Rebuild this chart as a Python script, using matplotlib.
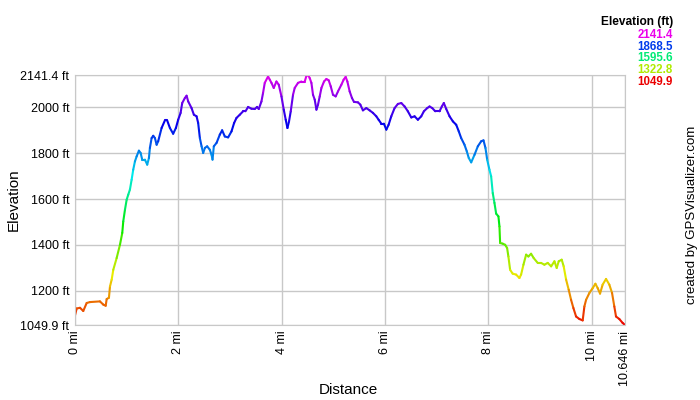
import numpy as np
import matplotlib
matplotlib.use("Agg")
import matplotlib.pyplot as plt
from matplotlib.collections import LineCollection
from matplotlib.colors import hsv_to_rgb

plt.rcParams['font.family'] = ['Liberation Sans', 'DejaVu Sans']

# track profile: distance (mi), elevation (ft)
dist_mi = [0.00, 0.033, 0.097, 0.160, 0.226, 0.290, 0.483, 0.547, 0.594, 0.613,
           0.657, 0.677, 0.710, 0.741, 0.806, 0.870, 0.915, 0.934, 0.967, 1.000,
           1.031, 1.063, 1.096, 1.127, 1.160, 1.193, 1.237, 1.270, 1.301, 1.353,
           1.398, 1.431, 1.450, 1.483, 1.514, 1.547, 1.580, 1.610, 1.676, 1.740,
           1.784, 1.837, 1.900, 1.953, 1.997, 2.044, 2.075, 2.127, 2.160, 2.191,
           2.256, 2.301, 2.353, 2.384, 2.417, 2.450, 2.481, 2.514, 2.558, 2.610,
           2.643, 2.662, 2.687, 2.740, 2.803, 2.848, 2.900, 2.964, 3.029, 3.080,
           3.126, 3.190, 3.254, 3.300, 3.351, 3.416, 3.480, 3.524, 3.557, 3.609,
           3.640, 3.673, 3.737, 3.770, 3.803, 3.847, 3.899, 3.944, 3.996, 4.041,
           4.079, 4.112, 4.143, 4.176, 4.220, 4.253, 4.317, 4.383, 4.447, 4.480,
           4.511, 4.543, 4.576, 4.607, 4.640, 4.673, 4.704, 4.737, 4.770, 4.820,
           4.866, 4.911, 4.950, 4.994, 5.046, 5.091, 5.156, 5.200, 5.239, 5.272,
           5.316, 5.361, 5.400, 5.477, 5.523, 5.573, 5.639, 5.703, 5.767, 5.832,
           5.877, 5.929, 5.979, 6.026, 6.070, 6.122, 6.186, 6.250, 6.316, 6.380,
           6.443, 6.509, 6.573, 6.637, 6.702, 6.753, 6.818, 6.863, 6.915, 6.973,
           7.056, 7.101, 7.139, 7.186, 7.250, 7.314, 7.379, 7.429, 7.475, 7.539,
           7.584, 7.622, 7.669, 7.733, 7.797, 7.862, 7.907, 7.945, 7.978, 8.022,
           8.055, 8.086, 8.119, 8.152, 8.196, 8.216, 8.229, 8.279, 8.326, 8.364,
           8.389, 8.422, 8.472, 8.538, 8.602, 8.635, 8.680, 8.732, 8.776, 8.828,
           8.879, 8.956, 9.022, 9.086, 9.150, 9.216, 9.280, 9.324, 9.363, 9.421,
           9.459, 9.506, 9.556, 9.602, 9.647, 9.699, 9.763, 9.827, 9.860, 9.893,
           9.957, 10.021, 10.073, 10.117, 10.163, 10.213, 10.279, 10.343, 10.395, 10.439,
           10.472, 10.536, 10.600, 10.646]
elev_ft = [1092, 1122, 1125, 1111, 1146, 1150, 1153, 1139, 1134, 1163,
           1169, 1218, 1248, 1291, 1342, 1400, 1452, 1502, 1553, 1597,
           1619, 1641, 1684, 1728, 1764, 1786, 1811, 1801, 1772, 1772,
           1750, 1779, 1823, 1866, 1876, 1866, 1837, 1852, 1910, 1943,
           1943, 1910, 1885, 1910, 1946, 1976, 2019, 2041, 2051, 2026,
           1997, 1968, 1961, 1932, 1866, 1830, 1801, 1823, 1830, 1815,
           1793, 1772, 1830, 1845, 1881, 1900, 1873, 1869, 1895, 1932,
           1954, 1968, 1983, 1983, 2002, 1994, 1993, 2002, 1993, 2026,
           2063, 2107, 2135, 2121, 2107, 2085, 2113, 2099, 2048, 1990,
           1946, 1910, 1939, 1983, 2055, 2085, 2107, 2113, 2113, 2138,
           2141.4, 2128, 2107, 2055, 2034, 1990, 2012, 2048, 2085, 2113,
           2124, 2118, 2092, 2055, 2048, 2070, 2099, 2121, 2133, 2113,
           2070, 2041, 2024, 2022, 2012, 1987, 1997, 1987, 1976, 1961,
           1946, 1929, 1929, 1903, 1924, 1961, 1997, 2015, 2019, 2004,
           1983, 1956, 1961, 1946, 1961, 1983, 1997, 2004, 1997, 1983,
           1983, 2004, 2019, 1993, 1961, 1939, 1924, 1895, 1866, 1837,
           1808, 1779, 1760, 1793, 1830, 1852, 1856, 1823, 1772, 1728,
           1699, 1626, 1583, 1536, 1524, 1480, 1408, 1405, 1400, 1386,
           1349, 1291, 1274, 1270, 1255, 1270, 1313, 1357, 1349, 1361,
           1342, 1321, 1321, 1313, 1321, 1306, 1328, 1299, 1328, 1335,
           1306, 1248, 1204, 1160, 1124, 1087, 1076, 1070, 1131, 1160,
           1190, 1211, 1230, 1211, 1187, 1226, 1251, 1226, 1190, 1131,
           1087, 1076, 1059, 1049.9]

elev_min = 1049.9
elev_max = 2141.4
y_ticks = [1049.9, 1200, 1400, 1600, 1800, 2000, 2141.4]
y_labels = ['1049.9 ft', '1200 ft', '1400 ft', '1600 ft', '1800 ft', '2000 ft', '2141.4 ft']
x_ticks = [0, 2, 4, 6, 8, 10, 10.646]
x_labels = ['0 mi', '2 mi', '4 mi', '6 mi', '8 mi', '10 mi', '10.646 mi']
legend_vals = [2141.4, 1868.5, 1595.6, 1322.8, 1049.9]


def elev_color(v):
    # hue runs red -> magenta with elevation
    t = (v - elev_min) / (elev_max - elev_min)
    return hsv_to_rgb((t * 300 / 360, 1.0, 0.92))


fig = plt.figure(figsize=(7, 4), dpi=100)
ax = fig.add_axes([75 / 700, 75 / 400, 550 / 700, 250 / 400])

x = np.array(dist_mi)
y = np.array(elev_ft)
pts = np.column_stack([x, y]).reshape(-1, 1, 2)
segs = np.concatenate([pts[:-1], pts[1:]], axis=1)
cols = [elev_color((a + b) / 2) for a, b in zip(y[:-1], y[1:])]
ax.add_collection(LineCollection(segs, colors=cols, linewidths=1.5, capstyle='round'))

ax.set_xlim(0, 10.646)
ax.set_ylim(elev_min, elev_max)
ax.set_yticks(y_ticks)
ax.set_yticklabels(y_labels, fontsize=9)
ax.set_xticks(x_ticks)
ax.set_xticklabels(x_labels, fontsize=9, rotation=90)
ax.tick_params(length=0, pad=4)
ax.grid(True, color='#c8c8c8', linewidth=1)
ax.set_axisbelow(True)
for s in ax.spines.values():
    s.set_color('#c8c8c8')

fig.text(14 / 700, 1 - 200 / 400, 'Elevation', rotation=90, ha='center', va='center', fontsize=11)
fig.text(348 / 700, 1 - 390 / 400, 'Distance', ha='center', va='center', fontsize=11)

fig.text(673 / 700, 1 - 21.5 / 400, 'Elevation (ft)', ha='right', va='center',
         fontsize=8.6, fontweight='bold')
for i, v in enumerate(legend_vals):
    fig.text(673 / 700, 1 - (35 + i * 11.7) / 400, f'{v:.1f}', ha='right', va='center',
             fontsize=8.3, fontweight='bold', color=elev_color(v))

fig.text(692 / 700, 1 - 215 / 400, 'created by GPSVisualizer.com', rotation=90,
         ha='center', va='center', fontsize=9.5)

fig.savefig('out.png', dpi=100)
